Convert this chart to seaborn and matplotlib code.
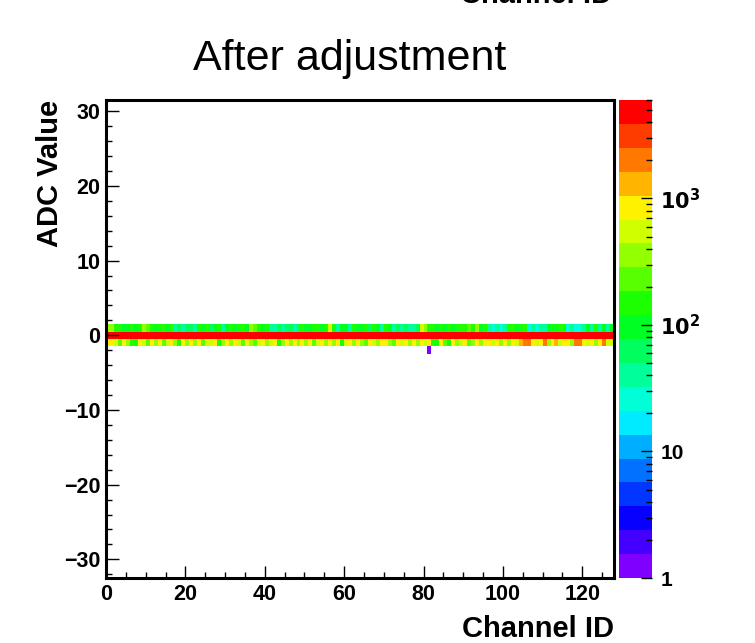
import numpy as np
import pandas as pd
import matplotlib
matplotlib.use("Agg")
import matplotlib.pyplot as plt
import seaborn as sns
import colorsys
from matplotlib.colors import ListedColormap, LogNorm
from matplotlib.ticker import MultipleLocator, FuncFormatter, LogLocator, NullFormatter

# ---- data ----
n_channels = 128
adc_min, adc_max = -32, 31          # ADC bin centres shown on the y axis

# counts in the ADC = +1 row, per channel
row_plus1 = [400, 350,
             150, 120, 90, 110, 140, 100, 130,
             300, 250,
             120, 90, 140, 160, 110, 130,
             45, 60, 40, 55, 70, 50,
             120, 90, 150, 60, 110, 130, 45, 100, 140, 80, 120, 170, 90,
             320, 280,
             130, 110, 150,
             50, 40, 60, 45, 55, 70, 48, 62,
             130, 110, 90, 150, 120, 100, 140,
             600,
             120, 40, 110, 90, 50, 130, 100, 80,
             120, 60, 140, 110, 50, 130, 90,
             45, 55, 40, 60, 50, 42, 58,
             500, 350,
             120, 140, 100, 160, 90, 130, 110, 150, 180, 120,
             250, 140, 300, 110, 130,
             35, 28, 40, 30, 45,
             120, 140, 100, 130, 150,
             30, 38, 25, 42, 35,
             110, 140, 90, 130, 120,
             28, 35, 30, 25, 40,
             100, 45, 130, 35, 110, 40, 90]

# counts in the ADC = 0 row (pedestal peak)
row_zero = [5200, 4800, 5100, 5400, 4900, 5300, 5600, 5000, 5200, 4700, 5100, 5500, 4900, 5000, 5400, 5200,
            4800, 5300, 5100, 5600, 5000, 4900, 5200, 5400, 4700, 5300, 5100, 4900, 5500, 5000, 5200, 4800,
            5100, 5300, 5600, 4900, 5000, 5400, 5200, 4800, 5100, 5500, 4900, 5300, 5000, 5200, 4700, 5100,
            5400, 5000, 5200, 4900, 5600, 5100, 5300, 4800, 5000, 5400, 5200, 4900, 5100, 5500, 4800, 5300,
            5000, 5200, 4900, 5400, 5100, 4700, 5300, 5000, 5200, 5500, 4900, 5100, 5300, 4800, 5000, 5200,
            5400, 5100, 4900, 5300, 5000, 5600, 5200, 4800, 5100, 5000, 5300, 4900, 5200, 5400, 5000, 4800,
            5100, 5300, 4900, 5200, 5000, 5500, 5100, 4800, 4600, 4500, 4400, 4700, 5000, 5200, 4600, 5100,
            4800, 4500, 5000, 5100, 4900, 5200, 4500, 4300, 4600, 5000, 5100, 5300, 5000, 4600, 5000, 5200]

# counts in the ADC = -1 row
row_minus1 = [800, 900, 450, 200, 750, 400, 150, 180, 700, 450, 250, 800, 400, 950, 200, 450,
              850, 300, 150, 800, 400, 900, 350, 750, 200, 450, 600, 900, 180, 400, 800, 400,
              900, 450, 250, 850, 400, 200, 650, 800, 300, 450, 900, 150, 400, 850, 350, 900,
              350, 800, 400, 950, 200, 450, 750, 300, 900, 400, 800, 180, 450, 900, 400, 850,
              400, 200, 900, 450, 350, 750, 950, 400, 250, 800, 450, 700, 400, 850, 350, 900,
              450, 800, 180, 150, 700, 200, 160, 850, 300, 450, 900, 200, 400, 850, 400, 950,
              900, 450, 850, 400, 950, 300, 800, 450, 1200, 1800, 2000, 900, 450, 850, 1900, 400,
              900, 1600, 450, 900, 1000, 400, 1800, 2100, 900, 450, 800, 350, 900, 1700, 450, 600]

# single stray entry
stray_channel, stray_adc, stray_count = 81, -2, 1

# ---- build the 2D histogram ----
adc_values = np.arange(adc_min, adc_max + 1)
hist = np.zeros((len(adc_values), n_channels))
hist[1 - adc_min] = row_plus1
hist[0 - adc_min] = row_zero
hist[-1 - adc_min] = row_minus1
hist[stray_adc - adc_min, stray_channel] = stray_count
df = pd.DataFrame(hist, index=adc_values, columns=np.arange(n_channels))

# ROOT-like violet -> red palette, 20 contour levels
n_levels = 20
colors = [colorsys.hsv_to_rgb((270 - 270 * i / (n_levels - 1)) / 360, 1, 1) for i in range(n_levels)]
cmap = ListedColormap(colors)
zmax = 6000

sns.set_style("ticks")
plt.rcParams['font.family'] = ['Liberation Sans', 'DejaVu Sans']
plt.rcParams['axes.unicode_minus'] = True
plt.rcParams['text.color'] = 'black'

fig = plt.figure(figsize=(7.55, 6.43), dpi=100)
ax = fig.add_axes([106 / 755, 65 / 643, 508 / 755, 478 / 643])
cax = fig.add_axes([619 / 755, 65 / 643, 33 / 755, 478 / 643])

sns.heatmap(df, mask=(df == 0), cmap=cmap, norm=LogNorm(vmin=1, vmax=zmax),
            ax=ax, cbar_ax=cax, xticklabels=False, yticklabels=False)

# heatmap row k spans [k, k+1]; ADC value v sits at v - adc_min + 0.5
off = -adc_min + 0.5
ax.set_ylim(0, len(adc_values))
ax.set_xlim(0, n_channels)
ax.set_axisbelow(False)
for s in ax.spines.values():
    s.set_visible(True)
    s.set_linewidth(2.2)
    s.set_color('black')

ax.xaxis.set_major_locator(MultipleLocator(20))
ax.xaxis.set_minor_locator(MultipleLocator(5))
ax.xaxis.set_major_formatter(FuncFormatter(lambda p, _: f"{p:.0f}"))
ax.yaxis.set_major_locator(MultipleLocator(10, offset=off % 10))
ax.yaxis.set_minor_locator(MultipleLocator(2, offset=off % 2))
ax.yaxis.set_major_formatter(FuncFormatter(lambda p, _: f"{round(p - off):d}".replace('-', '\u2212')))
ax.tick_params(which='major', direction='in', length=9, width=1, labelsize=15.5, pad=4,
               color='black', labelcolor='black')
ax.tick_params(which='minor', direction='in', length=4.5, width=1, color='black')
ax.tick_params(top=False, right=False, which='both')
for lab in ax.get_xticklabels() + ax.get_yticklabels():
    lab.set_fontweight('bold')
plt.setp(ax.get_xticklabels(), rotation=0)
plt.setp(ax.get_yticklabels(), rotation=0)

# colour bar styled like a ROOT palette axis
cbar = ax.collections[0].colorbar
cbar.outline.set_visible(False)
cax.set_axisbelow(False)
cax.yaxis.set_ticks_position('right')
cbar.set_ticks([1, 10, 100, 1000])
cbar.set_ticklabels(['1', '10', '$\\mathbf{10^{2}}$', '$\\mathbf{10^{3}}$'])
cax.yaxis.set_minor_locator(LogLocator(base=10, subs=np.arange(2, 10)))
cax.yaxis.set_minor_formatter(NullFormatter())
cax.tick_params(which='major', direction='in', length=8, width=1, labelsize=15, pad=6,
                color='black', labelcolor='black', right=True, left=False)
cax.tick_params(which='minor', direction='in', length=4, width=1, color='black',
                right=True, left=False)
for lab in cax.get_yticklabels():
    lab.set_fontweight('bold')

fig.text(350 / 755, 1 - 70 / 643, "After adjustment", ha='center', va='baseline',
         fontsize=31, color='black')
fig.text(614 / 755, 1 - 637 / 643, "Channel ID", ha='right', va='baseline',
         fontsize=21, fontweight='bold', color='black')
fig.text(50 / 755, 1 - 100 / 643, "ADC Value", ha='center', va='top', rotation=90,
         fontsize=21, fontweight='bold', color='black')
# bottom of the previous panel's axis title, cut by the top edge
fig.text(612 / 755, 1 - 3 / 643, "Channel ID", ha='right', va='baseline',
         fontsize=21, fontweight='bold', color='black')

fig.savefig("out.png", dpi=100, facecolor='white')
